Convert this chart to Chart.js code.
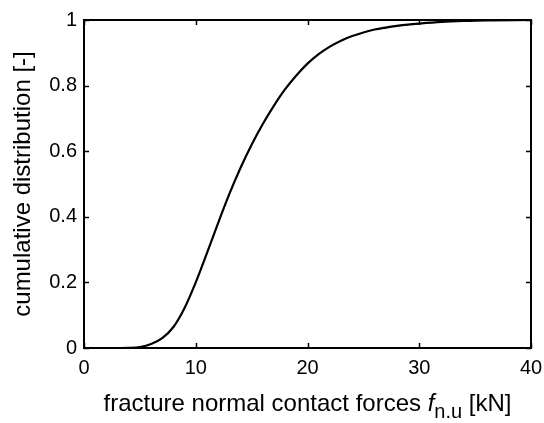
<!DOCTYPE html>
<html>
<head>
<meta charset="utf-8">
<script src="https://cdn.jsdelivr.net/npm/chart.js@4/dist/chart.umd.min.js"></script>
<style>
  html, body { margin: 0; padding: 0; background: #fff; }
  #wrap { position: relative; width: 544px; height: 423px; }
  canvas { display: block; }
</style>
</head>
<body>
<div id="wrap"><canvas id="cdf" width="544" height="423"></canvas></div>
<script>
// Fracture normal contact force [kN] and its cumulative distribution [-]
const forceKN = [0, 2, 3, 4, 5, 6, 7, 8, 9, 10, 11, 12, 13, 14, 15, 16, 17, 18, 19, 20,
                 21, 22, 23, 24, 25, 26, 27, 28, 29, 30, 32, 34, 36, 40];
const cumulative = [0, 0, 0, 0.0005, 0.003, 0.012, 0.03, 0.064, 0.122, 0.2, 0.289, 0.381,
                    0.469, 0.549, 0.62, 0.683, 0.739, 0.789, 0.831, 0.867,
                    0.896, 0.919, 0.937, 0.951, 0.962, 0.971, 0.977, 0.982, 0.986, 0.989,
                    0.994, 0.997, 0.999, 1];
const xTicks = [0, 10, 20, 30, 40];
const yTicks = [0, 0.2, 0.4, 0.6, 0.8, 1];

const FONT = '"Liberation Sans", Arial, Helvetica, sans-serif';
const TICK_SIZE = 20;
const TITLE_SIZE = 24;

// Box around the axes with inward tick marks on all four sides, plus the x-axis title
const boxAndTitle = {
  id: 'boxAndTitle',
  afterDraw(chart) {
    const { ctx, chartArea: a, scales } = chart;
    const xs = scales.x, ys = scales.y;
    const tl = 5;
    ctx.save();
    ctx.strokeStyle = '#000';
    ctx.lineWidth = 1.5;
    ctx.beginPath();
    xTicks.forEach(v => {
      const px = Math.round(xs.getPixelForValue(v)) + 0.5;
      ctx.moveTo(px, a.bottom); ctx.lineTo(px, a.bottom - tl);
      ctx.moveTo(px, a.top); ctx.lineTo(px, a.top + tl);
    });
    yTicks.forEach(v => {
      const py = Math.round(ys.getPixelForValue(v)) + 0.5;
      ctx.moveTo(a.left, py); ctx.lineTo(a.left + tl, py);
      ctx.moveTo(a.right, py); ctx.lineTo(a.right - tl, py);
    });
    ctx.stroke();
    ctx.lineWidth = 2;
    ctx.strokeRect(a.left, a.top, a.right - a.left, a.bottom - a.top);

    // x-axis title: "fracture normal contact forces f_n.u [kN]"
    const parts = [
      { t: 'fracture normal contact forces ', f: `${TITLE_SIZE}px ${FONT}`, dy: 0 },
      { t: 'f', f: `italic ${TITLE_SIZE}px ${FONT}`, dy: 0 },
      { t: 'n.u', f: `${Math.round(TITLE_SIZE * 0.82)}px ${FONT}`, dy: 7 },
      { t: ' [kN]', f: `${TITLE_SIZE}px ${FONT}`, dy: 0 }
    ];
    let total = 0;
    parts.forEach(p => { ctx.font = p.f; p.w = ctx.measureText(p.t).width; total += p.w; });
    let x = (a.left + a.right) / 2 - total / 2;
    const baseline = 411;
    ctx.fillStyle = '#000';
    ctx.textBaseline = 'alphabetic';
    ctx.textAlign = 'left';
    parts.forEach(p => {
      ctx.font = p.f;
      ctx.fillText(p.t, x, baseline + p.dy);
      x += p.w;
    });
    ctx.restore();
  }
};

new Chart(document.getElementById('cdf'), {
  type: 'scatter',
  data: {
    datasets: [{
      data: forceKN.map((f, i) => ({ x: f, y: cumulative[i] })),
      showLine: true,
      borderColor: '#000',
      borderWidth: 2.2,
      pointRadius: 0,
      cubicInterpolationMode: 'monotone',
      fill: false
    }]
  },
  options: {
    responsive: false,
    animation: false,
    events: [],
    layout: { padding: { top: 20, right: 13, left: 0, bottom: 0 } },
    plugins: { legend: { display: false }, tooltip: { enabled: false } },
    scales: {
      x: {
        type: 'linear',
        min: 0, max: 40,
        afterBuildTicks: s => { s.ticks = xTicks.map(v => ({ value: v })); },
        afterFit: s => { s.height = 75; s.paddingLeft = 0; s.paddingRight = 0; },
        grid: { display: false, drawTicks: false },
        border: { display: false },
        ticks: {
          color: '#000', padding: 8, maxRotation: 0,
          font: { family: FONT, size: TICK_SIZE },
          callback: v => String(v)
        }
      },
      y: {
        type: 'linear',
        min: 0, max: 1,
        afterBuildTicks: s => { s.ticks = yTicks.map(v => ({ value: v })); },
        afterFit: s => { s.width = 84; s.paddingTop = 0; s.paddingBottom = 0; },
        grid: { display: false, drawTicks: false },
        border: { display: false },
        ticks: {
          color: '#000', padding: 7,
          font: { family: FONT, size: TICK_SIZE },
          callback: v => String(Math.round(v * 10) / 10)
        },
        title: {
          display: true,
          text: 'cumulative distribution [-]',
          color: '#000',
          padding: { top: 9, bottom: 0 },
          font: { family: FONT, size: TITLE_SIZE }
        }
      }
    }
  },
  plugins: [boxAndTitle]
});
</script>
</body>
</html>
